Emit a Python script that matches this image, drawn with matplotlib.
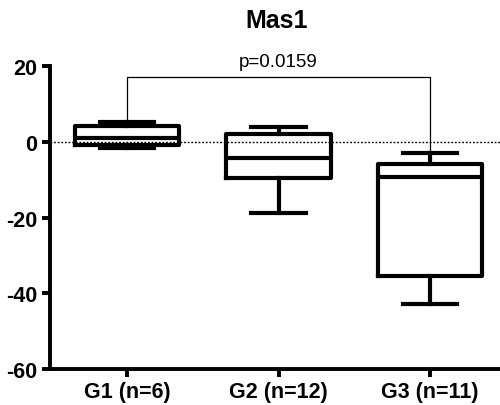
import matplotlib
matplotlib.use("Agg")
import matplotlib.pyplot as plt

plt.rcParams['font.family'] = ['Liberation Sans', 'DejaVu Sans']
plt.rcParams['axes.unicode_minus'] = False

# groups and box statistics
groups = ["G1 (n=6)", "G2 (n=12)", "G3 (n=11)"]
whislo = [-1.6, -18.7, -42.9]
q1 = [-0.8, -9.5, -35.5]
med = [1.0, -4.2, -9.2]
q3 = [4.2, 2.1, -5.8]
whishi = [5.3, 3.9, -2.9]

p_text = "p=0.0159"
sig_y = 17.1

stats = []
for i in range(len(groups)):
    stats.append(dict(whislo=whislo[i], q1=q1[i], med=med[i], q3=q3[i],
                      whishi=whishi[i], fliers=[], label=groups[i]))

fig = plt.figure(figsize=(5, 4.06), dpi=100)
ax = fig.add_axes([0.1, 0.0887, 0.9, 0.746])

lw = 3.0
ax.bxp(stats, positions=[1, 2, 3], widths=0.69, showfliers=False,
       boxprops=dict(color="black", linewidth=lw),
       medianprops=dict(color="black", linewidth=lw),
       whiskerprops=dict(color="black", linewidth=lw),
       capprops=dict(color="black", linewidth=lw),
       capwidths=0.36)

# dotted zero line
ax.axhline(0, color="black", linestyle=(0, (1.3, 1.3)), linewidth=1.0, zorder=0)

# significance bracket G1 vs G3
ax.plot([1, 1, 3, 3], [whishi[0], sig_y, sig_y, whishi[2]], color="black",
        linewidth=0.9, clip_on=False)
ax.text(2, sig_y + 1.9, p_text, ha="center", va="bottom", fontsize=13.5)

ax.set_xlim(0.49, 3.462)
ax.set_ylim(-60, 20)
ax.set_yticks([-60, -40, -20, 0, 20])
ax.set_xticks([1, 2, 3])
ax.set_xticklabels(groups)

for s in ["top", "right"]:
    ax.spines[s].set_visible(False)
for s in ["left", "bottom"]:
    ax.spines[s].set_linewidth(2.8)

ax.tick_params(axis="both", width=2.8, length=6, labelsize=15.5, pad=3)
for lbl in ax.get_xticklabels() + ax.get_yticklabels():
    lbl.set_fontweight("bold")

fig.text(0.554, 0.948, "Mas1", ha="center", va="center", fontsize=18, fontweight="bold")

fig.savefig("out.png", dpi=100)
